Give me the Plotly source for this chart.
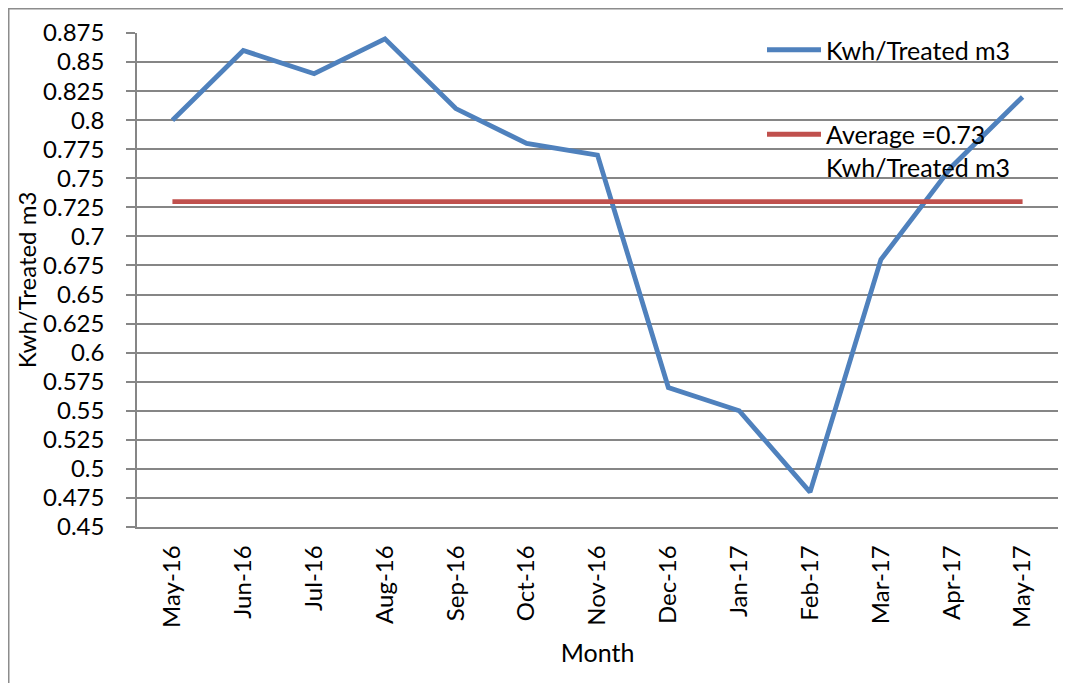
import plotly.graph_objects as go

months = ["May-16", "Jun-16", "Jul-16", "Aug-16", "Sep-16", "Oct-16", "Nov-16",
          "Dec-16", "Jan-17", "Feb-17", "Mar-17", "Apr-17", "May-17"]
kwh_per_m3 = [0.80, 0.86, 0.84, 0.87, 0.81, 0.78, 0.77, 0.57, 0.55, 0.48, 0.68, 0.76, 0.82]
average_value = 0.73
average_line = [average_value] * len(months)

y_tickvals = [0.45, 0.475, 0.5, 0.525, 0.55, 0.575, 0.6, 0.625, 0.65, 0.675, 0.7,
              0.725, 0.75, 0.775, 0.8, 0.825, 0.85, 0.875]
y_ticktext = ["0.45", "0.475", "0.5", "0.525", "0.55", "0.575", "0.6", "0.625", "0.65",
              "0.675", "0.7", "0.725", "0.75", "0.775", "0.8", "0.825", "0.85", "0.875"]

FONT = "Lato"
GRID = "#868686"
# the page body adds an 8px offset, so the figure is 8px smaller than the window
W, H = 1063, 675
L, R, T, B = 129, 13, 25, 156
pw, ph = W - L - R, H - T - B

fig = go.Figure()
fig.add_trace(go.Scatter(
    x=months, y=kwh_per_m3, mode="lines", name="Kwh/Treated m3",
    line=dict(color="#4F81BD", width=4.8), legendgroup="a"))
fig.add_trace(go.Scatter(
    x=months, y=average_line, mode="lines", name="Average =0.73<br>Kwh/Treated m3",
    line=dict(color="#C0504D", width=4.8), legendgroup="b"))

# outer chart border (right and bottom edges fall outside the window, as in the reference)
fig.add_shape(type="rect", xref="paper", yref="paper",
              x0=(0.75 - L) / pw, x1=(W + 20 - L) / pw,
              y0=-(H + 20 - T - ph) / ph, y1=(H - B - 0.75) / ph,
              line=dict(color="#8C8C8C", width=1.5), fillcolor="rgba(0,0,0,0)", layer="below")

fig.update_layout(
    width=W, height=H,
    margin=dict(l=L, r=R, t=T, b=B, autoexpand=False),
    paper_bgcolor="white", plot_bgcolor="white",
    font=dict(family=FONT, size=24, color="black"),
    showlegend=True,
    legend=dict(x=(754 - L) / pw, xanchor="left", y=(H - B - 19) / ph, yanchor="top",
                bgcolor="rgba(0,0,0,0)", borderwidth=0, itemwidth=54,
                tracegroupgap=49, traceorder="grouped", valign="top",
                font=dict(family=FONT, size=25, color="black")),
    xaxis=dict(
        type="category", range=[-0.5, len(months) - 0.5],
        showgrid=False, showline=True, linecolor=GRID, linewidth=1.5,
        ticks="", tickangle=-90, ticklabelstandoff=7,
        tickfont=dict(family=FONT, size=24, color="black"),
        title=dict(text="Month", font=dict(family=FONT, size=25, color="black"), standoff=17),
        zeroline=False),
    yaxis=dict(
        range=[0.45, 0.875], tickvals=y_tickvals, ticktext=y_ticktext,
        showgrid=True, gridcolor=GRID, gridwidth=1.5,
        showline=True, linecolor=GRID, linewidth=1.5,
        ticks="outside", ticklen=9, tickcolor=GRID, tickwidth=1.5,
        ticklabelstandoff=17,
        tickfont=dict(family=FONT, size=24, color="black"),
        title=dict(text="Kwh/Treated m3", font=dict(family=FONT, size=24, color="black"), standoff=0),
        zeroline=False),
)

fig.write_html("out.html")
